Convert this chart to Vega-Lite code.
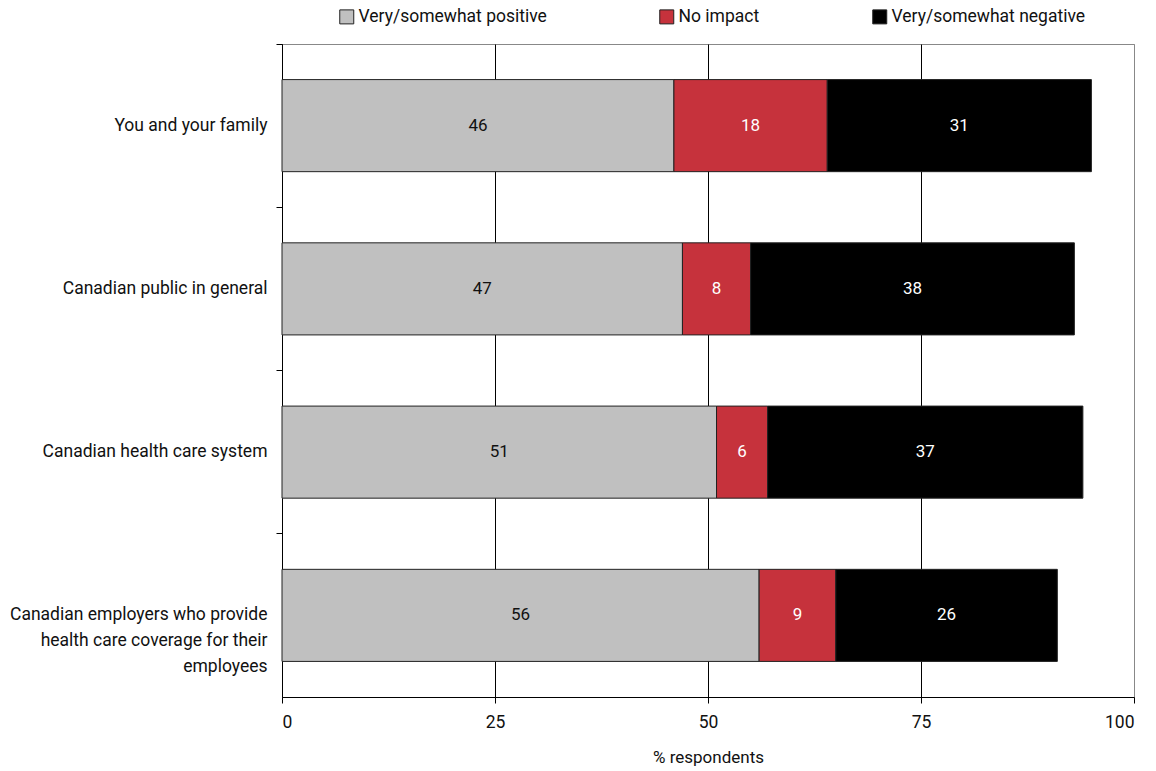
{
  "$schema": "https://vega.github.io/schema/vega-lite/v6.json",
  "width": 852,
  "height": 653,
  "autosize": "none",
  "padding": {"left": 282, "top": 44, "right": 22, "bottom": 74},
  "background": "white",
  "config": {
    "font": "Roboto",
    "view": {"stroke": "#888888", "strokeWidth": 1},
    "axis": {"labelFont": "Roboto", "titleFont": "Roboto", "labelFontSize": 17.5, "titleFontSize": 17, "titleFontWeight": "normal", "labelColor": "#111", "titleColor": "#111"},
    "legend": {"labelFont": "Roboto", "labelFontSize": 17.5, "labelColor": "#111"}
  },
  "data": {
    "values": [
      {"Group": "You and your family", "Response": "Very/somewhat positive", "Rank": 1, "Pct": 46},
      {"Group": "You and your family", "Response": "No impact", "Rank": 2, "Pct": 18},
      {"Group": "You and your family", "Response": "Very/somewhat negative", "Rank": 3, "Pct": 31},
      {"Group": "Canadian public in general", "Response": "Very/somewhat positive", "Rank": 1, "Pct": 47},
      {"Group": "Canadian public in general", "Response": "No impact", "Rank": 2, "Pct": 8},
      {"Group": "Canadian public in general", "Response": "Very/somewhat negative", "Rank": 3, "Pct": 38},
      {"Group": "Canadian health care system", "Response": "Very/somewhat positive", "Rank": 1, "Pct": 51},
      {"Group": "Canadian health care system", "Response": "No impact", "Rank": 2, "Pct": 6},
      {"Group": "Canadian health care system", "Response": "Very/somewhat negative", "Rank": 3, "Pct": 37},
      {"Group": "Canadian employers who provide health care coverage for their employees", "Response": "Very/somewhat positive", "Rank": 1, "Pct": 56},
      {"Group": "Canadian employers who provide health care coverage for their employees", "Response": "No impact", "Rank": 2, "Pct": 9},
      {"Group": "Canadian employers who provide health care coverage for their employees", "Response": "Very/somewhat negative", "Rank": 3, "Pct": 26}
    ]
  },
  "encoding": {
    "y": {
      "field": "Group",
      "type": "nominal",
      "sort": null,
      "scale": {"paddingInner": 0, "paddingOuter": 0},
      "axis": {
        "title": null,
        "domainColor": "black",
        "tickColor": "black",
        "tickSize": 6,
        "bandPosition": 0,
        "labelPadding": 9,
        "labelLimit": 400,
        "labelLineHeight": 26,
        "labelExpr": "indexof(datum.label, 'employers') >= 0 ? ['Canadian employers who provide', 'health care coverage for their', 'employees'] : datum.label"
      }
    },
    "x": {
      "field": "Pct",
      "type": "quantitative",
      "stack": "zero",
      "scale": {"domain": [0, 100], "nice": false},
      "axis": {
        "title": "% respondents",
        "values": [0, 25, 50, 75, 100],
        "grid": true,
        "gridColor": {"condition": {"test": "datum.value == 100", "value": "#888888"}, "value": "black"},
        "gridOpacity": 1,
        "domainColor": "black",
        "tickColor": "black",
        "tickSize": 6,
        "labelPadding": 10,
        "titlePadding": 19
      }
    },
    "order": {"field": "Rank", "type": "quantitative", "sort": "ascending"}
  },
  "layer": [
    {
      "mark": {"type": "bar", "height": {"band": 0.564}, "stroke": "#222", "strokeWidth": 1},
      "encoding": {
        "color": {
          "field": "Response",
          "type": "nominal",
          "sort": ["Very/somewhat positive", "No impact", "Very/somewhat negative"],
          "scale": {"domain": ["Very/somewhat positive", "No impact", "Very/somewhat negative"], "range": ["#c0c0c0", "#c6323c", "#000000"]},
          "legend": {
            "title": null,
            "orient": "none",
            "legendX": 56,
            "legendY": -36,
            "direction": "horizontal",
            "symbolType": "square",
            "symbolSize": 196,
            "symbolStrokeColor": "#222",
            "symbolStrokeWidth": 1,
            "symbolOpacity": 1,
            "columnPadding": 110,
            "labelOffset": 3,
            "labelLimit": 400
          }
        }
      }
    },
    {
      "mark": {"type": "text", "fontSize": 17, "font": "Roboto"},
      "encoding": {
        "x": {"field": "Pct", "type": "quantitative", "stack": "zero", "bandPosition": 0.5},
        "detail": {"field": "Response"},
        "text": {"field": "Pct", "type": "quantitative"},
        "color": {"condition": {"test": "datum.Response === 'Very/somewhat positive'", "value": "#111"}, "value": "white"}
      }
    }
  ]
}
